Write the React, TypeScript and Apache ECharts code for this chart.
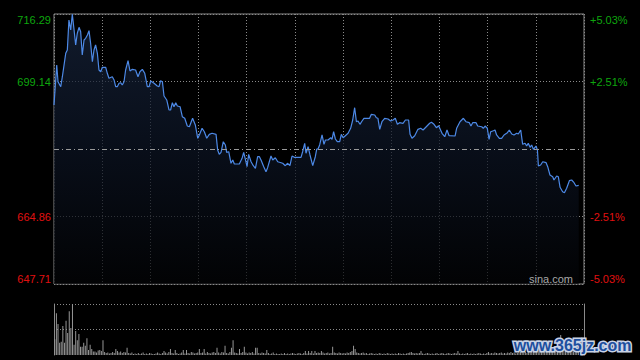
import React, { useEffect, useRef } from 'react';
import * as echarts from 'echarts';

const prevClose = 682.0;
const priceMin = 647.71;
const priceMax = 716.29;
const sessionMinutes = 330;
const priceTickLabels = ['647.71', '664.86', '', '699.14', '716.29'];
const pctTickLabels = ['-5.03%', '-2.51%', '', '+2.51%', '+5.03%'];

const priceTimes = [
  0, 1.7, 2.5, 4.2, 5.2, 7.3, 8.3, 9.3, 10.4, 11.4, 12.5, 13.5, 14.5, 15.6, 16.6, 17.6, 18.7, 19.7, 20.8, 21.8,
  22.8, 23.9, 24.9, 25.9, 27.0, 28.0, 29.1, 30.1, 32.2, 33.2, 34.2, 36.3, 37.4, 38.4, 39.4, 40.5, 41.5, 42.5, 43.6, 44.6,
  46.1, 47.3, 48.8, 50.8, 52.3, 53.5, 55.0, 56.5, 58.1, 59.2, 60.2, 62.3, 64.3, 65.4, 66.4, 67.5, 68.5, 70.2, 71.6, 72.6,
  73.7, 74.7, 75.8, 76.8, 78.5, 79.9, 81.4, 83.0,
  84.3, 86.3, 88.0, 89.5, 90.5, 92.2, 93.6, 95.1, 96.7, 98.4, 100.9, 101.9, 102.9, 104.0, 105.4, 106.7, 107.5, 108.8,
  110.2, 111.3, 112.3, 115.4, 117.1, 118.1, 119.5, 120.2, 121.2, 122.7, 124.1, 125.4, 126.8, 127.9, 128.9, 130.6, 132.0,
  133.0, 135.1, 136.2, 137.8, 139.3, 142.4, 144.0, 145.5, 146.9, 148.2, 149.6, 153.8, 154.8, 156.1, 156.9, 158.2, 159.4,
  161.1, 162.7, 163.6,
  164.4, 165.4, 166.9, 168.1, 169.0, 170.6, 172.3, 173.1, 174.1, 175.2, 176.4, 177.9, 178.9, 180.0, 181.4, 183.1, 184.7,
  186.0, 187.2, 188.3, 189.3, 190.5, 191.8, 193.0, 196.5, 197.6, 199.7, 200.7, 201.7, 202.8, 204.2, 205.9, 208.0, 209.6,
  211.1, 212.5, 213.8, 215.2, 217.3, 218.8, 220.8, 221.7, 222.9, 224.6, 226.6, 228.3, 229.8, 231.8, 233.9, 235.0, 236.6,
  238.1, 239.5, 241.6, 243.3, 244.7, 246.0,
  249.7, 250.7, 252.8, 254.9, 256.5, 258.6, 259.6, 260.7, 262.8, 263.8, 266.3, 267.3, 268.4, 269.8, 270.9, 271.9, 273.6,
  274.6, 275.6, 277.3, 278.7, 280.2, 282.3, 283.5, 285.0, 286.4, 288.1, 289.1, 290.6, 291.8, 293.3, 294.3, 295.3, 296.4,
  297.4, 298.5, 300.1, 301.0, 301.6, 303.0, 304.3, 306.4, 307.4, 308.8, 310.5, 311.3, 313.0, 314.0, 315.1, 316.7, 317.8,
  319.2, 320.9, 322.3, 323.8, 325.0, 326.7,
];

const prices = [
  693.18, 703.34, 699.09, 697.82, 700.36, 706.31, 707.15, 714.77, 712.23, 716.2, 712.23, 708.42, 711.39, 712.91, 711.79, 705.88, 709.69, 710.12, 710.96, 712.05,
  708.85, 704.17, 707.15, 708.42, 706.31, 702.07, 701.63, 702.75, 702.75, 701.23, 699.96, 700.36, 699.53, 697.82, 697.82, 698.69, 698.84, 698.26, 699.09, 702.07,
  704.43, 701.81, 702.24, 702.07, 700.36, 701.63, 702.24, 701.23, 697.82, 697.82, 699.27, 698.69, 698.0, 697.82, 699.35, 699.09, 695.46, 694.45, 691.91, 691.91,
  693.76, 692.74, 693.76, 692.92, 692.74, 690.2, 689.8, 687.84,
  687.66, 689.8, 688.1, 684.72, 685.56, 687.26, 686.39, 684.72, 685.73, 685.99, 685.73, 681.75, 680.65, 681.16, 683.85, 683.02, 681.16, 681.31,
  678.37, 679.21, 678.19, 678.19, 679.64, 681.16, 678.77, 677.5, 680.65, 678.77, 677.76, 677.1, 680.04, 680.04, 679.21, 677.5, 676.23,
  677.25, 680.22, 679.21, 679.79, 678.77, 678.37, 677.76, 678.37, 677.76, 680.22, 679.89, 679.89, 681.31, 683.45, 680.91, 682.58, 680.48,
  677.76, 680.04, 682.0,
  682.0, 683.02, 685.56, 683.19, 684.29, 684.29, 684.87, 684.46, 686.39, 684.54, 683.85, 683.85, 685.73, 684.87, 685.38, 685.99, 687.26,
  689.37, 692.49, 688.93, 689.11, 688.27, 689.11, 689.8, 689.8, 690.81, 690.64, 689.95, 689.8, 687.0, 688.93, 689.8, 689.62, 689.11,
  689.37, 689.8, 688.27, 688.68, 688.53, 689.37, 689.37, 685.73, 684.72, 685.38, 687.0, 687.26, 686.83, 687.66, 688.53, 688.78, 688.27,
  687.41, 687.92, 685.99, 685.12, 686.83, 685.38,
  685.3, 687.26, 688.93, 689.8, 688.93, 688.68, 687.84, 688.68, 688.68, 687.84, 687.66, 687.26, 687.84, 687.26, 684.46, 686.39, 686.65,
  686.83, 685.56, 684.72, 684.72, 685.56, 686.14, 686.83, 685.81, 685.56, 685.99, 685.81, 686.83, 683.19, 683.45, 682.76, 683.45, 682.43,
  683.02, 681.92, 682.76, 681.75, 677.68, 677.94, 678.77, 678.52, 677.5, 675.4, 674.96, 674.13, 675.14, 674.96, 672.27, 671.15, 670.9,
  672.02, 673.95, 674.13, 673.44, 672.6, 672.78,
];

const volumes = [
  31, 82, 61, 24, 26, 57, 24, 67, 43, 86,
  53, 100, 20, 47, 29, 41, 16, 16, 24, 18,
  33, 10, 20, 12, 7, 7, 5, 9, 10, 8,
  29, 6, 4, 5, 3, 4, 6, 4, 12, 8,
  5, 7, 4, 6, 5, 14, 4, 3, 5, 2,
  3, 2, 4, 2, 3, 5, 2, 3, 2, 4,
  3, 2, 2, 3, 5, 3, 2, 4, 8, 5,
  3, 6, 12, 4, 3, 10, 4, 2, 3, 5,
  10, 3, 10, 4, 3, 6, 5, 3, 4, 5,
  12, 4, 5, 12, 3, 6, 4, 3, 5, 6,
  4, 14, 5, 3, 6, 5, 18, 4, 3, 6,
  14, 29, 5, 4, 3, 12, 4, 6, 16, 5,
  3, 5, 4, 6, 3, 14, 14, 4, 3, 5,
  4, 3, 10, 4, 2, 3, 5, 2, 3, 2,
  2, 3, 2, 4, 2, 3, 2, 3, 4, 3,
  2, 3, 4, 3, 2, 4, 8, 3, 8, 4,
  8, 3, 8, 4, 5, 4, 8, 5, 3, 4,
  5, 3, 4, 16, 5, 4, 3, 5, 4, 3,
  4, 3, 5, 4, 6, 8, 18, 12, 5, 4,
  3, 4, 5, 3, 4, 2, 3, 4, 3, 2,
  3, 2, 4, 3, 2, 3, 2, 4, 3, 2,
  3, 2, 3, 2, 4, 3, 2, 3, 2, 3,
  4, 5, 6, 4, 3, 4, 3, 4, 8, 3,
  2, 3, 4, 3, 2, 3, 2, 3, 4, 2,
  3, 4, 3, 2, 3, 4, 3, 2, 3, 4,
  3, 8, 3, 2, 3, 2, 3, 4, 2, 3,
  2, 3, 2, 3, 4, 3, 2, 3, 2, 4,
  6, 3, 4, 3, 5, 4, 3, 4, 5, 3,
  4, 3, 5, 4, 6, 4, 5, 3, 4, 5,
  6, 8, 5, 6, 4, 7, 5, 8, 6, 9,
  10, 22, 14, 10, 8, 9, 7, 12, 10, 14,
  9, 12, 10, 8, 12, 39, 14, 10, 8, 12,
  9, 8, 10, 7, 9, 8, 12,
];

const GREEN = '#0ea60e';
const RED = '#e01010';
const GRID = '#8a8a8a';
const FONT = '"Liberation Sans", Arial, sans-serif';

export default function App() {
  const ref = useRef<HTMLDivElement>(null);
  useEffect(() => {
    if (!ref.current) return;
    const chart = echarts.init(ref.current, undefined, { renderer: 'svg' });
    const dotted = { color: GRID, width: 1, type: [1, 2] as any };
    const labelRich = {
      g: { color: GREEN, fontSize: 11, fontFamily: FONT },
      r: { color: RED, fontSize: 11, fontFamily: FONT },
    };
    const pick = (arr: string[]) => (v: number) => {
      const i = Math.round(v);
      const t = arr[i] || '';
      if (!t) return '';
      return i >= 3 ? `{g|${t}}` : `{r|${t}}`;
    };
    chart.setOption({
      animation: false,
      backgroundColor: '#000000',
      grid: [
        { left: 54, top: 14, width: 530, height: 270, show: true, borderColor: GRID, borderWidth: 1, backgroundColor: 'transparent' },
        { left: 54, top: 304, width: 530, height: 51, show: false },
      ],
      xAxis: [
        {
          type: 'value', gridIndex: 0, min: 0, max: sessionMinutes, interval: 30,
          axisLine: { show: false }, axisTick: { show: false }, axisLabel: { show: false },
          splitLine: { show: true, lineStyle: dotted },
        },
        {
          type: 'value', gridIndex: 1, min: 0, max: sessionMinutes, interval: 30,
          axisLine: { show: false }, axisTick: { show: false }, axisLabel: { show: false },
          splitLine: { show: false },
        },
      ],
      yAxis: [
        {
          type: 'value', gridIndex: 0, min: priceMin, max: priceMax,
          axisLine: { show: false }, axisTick: { show: false }, axisLabel: { show: false }, splitLine: { show: false },
        },
        {
          type: 'value', gridIndex: 0, position: 'left', min: 0, max: 4, interval: 1,
          axisLine: { show: false }, axisTick: { show: false },
          axisLabel: {
            show: true, margin: 3, formatter: pick(priceTickLabels), rich: labelRich,
            verticalAlignMinLabel: 'bottom', verticalAlignMaxLabel: 'top',
          } as any,
          splitLine: { show: true, lineStyle: { ...dotted, color: [GRID, GRID, 'transparent', GRID, GRID] } },
        },
        {
          type: 'value', gridIndex: 0, position: 'right', min: 0, max: 4, interval: 1,
          axisLine: { show: false }, axisTick: { show: false },
          axisLabel: {
            show: true, margin: 6, formatter: pick(pctTickLabels), rich: labelRich,
            verticalAlignMinLabel: 'bottom', verticalAlignMaxLabel: 'top',
          } as any,
          splitLine: { show: false },
        },
        {
          type: 'value', gridIndex: 1, min: 0, max: 100, interval: 50, position: 'left',
          axisLine: { show: true, lineStyle: { color: GRID, width: 1 } }, axisTick: { show: false }, axisLabel: { show: false },
          splitLine: { show: true, lineStyle: { ...dotted, color: ['transparent', GRID, GRID] } },
        },
        {
          type: 'value', gridIndex: 1, min: 0, max: 100, interval: 50, position: 'right',
          axisLine: { show: true, lineStyle: { color: GRID, width: 1 } }, axisTick: { show: false }, axisLabel: { show: false },
          splitLine: { show: false },
        },
      ],
      graphic: [
        {
          type: 'text', right: 67, top: 273, z: 100,
          style: { text: 'sina.com', fill: '#a8a8a8', font: `11px ${FONT}` },
        },
        {
          type: 'text', right: 7, top: 336, z: 100,
          style: {
            text: 'www.365jz.com', fill: '#1d4f9e', stroke: '#c9d3e6', lineWidth: 3,
            font: `bold 16px "Liberation Sans", Arial, sans-serif`,
          },
        },
      ],
      series: [
        {
          type: 'line', xAxisIndex: 0, yAxisIndex: 0,
          data: priceTimes.map((t, i) => [t, prices[i]]),
          showSymbol: false, symbol: 'none',
          lineStyle: { color: '#4d89e6', width: 1.2 },
          areaStyle: {
            origin: 'start',
            color: new echarts.graphic.LinearGradient(0, 0, 0, 1, [
              { offset: 0, color: '#18263f' },
              { offset: 0.5, color: '#0c1424' },
              { offset: 1, color: '#030406' },
            ]),
          },
          markLine: {
            silent: true, symbol: 'none', label: { show: false },
            lineStyle: { color: '#9a9a9a', width: 1, type: [5, 3, 1, 3] as any },
            data: [{ yAxis: prevClose }],
          },
          z: 3,
        },
        {
          type: 'bar', xAxisIndex: 1, yAxisIndex: 3,
          data: volumes.map((v, i) => [i + 0.5, v]),
          barWidth: 1,
          itemStyle: { color: '#969696' },
        },
      ],
    });
    return () => chart.dispose();
  }, []);
  return (
    <div
      ref={ref}
      style={{ position: 'fixed', left: 0, top: 0, width: 640, height: 360, background: '#000' }}
    />
  );
}
